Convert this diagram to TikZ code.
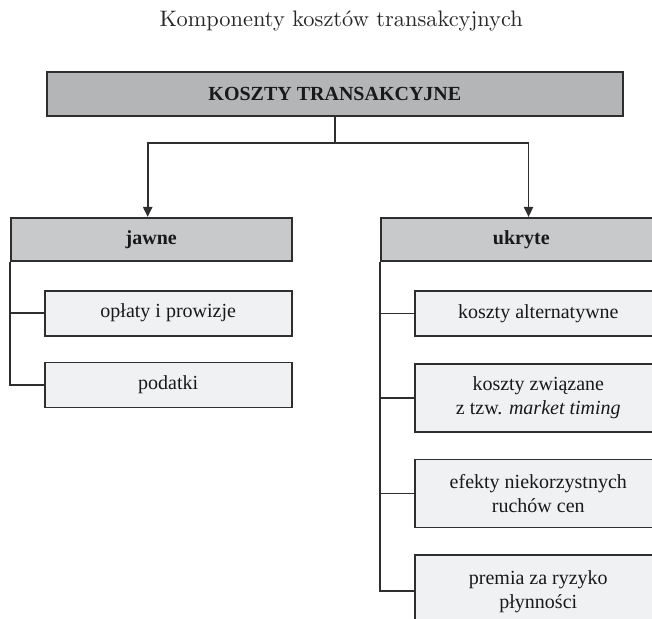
\documentclass[tikz,border=0pt]{standalone}
\usepackage{fontspec}
\newfontfamily\tnr{Liberation Serif}
\newfontfamily\lmdziesiec{lmroman10-regular.otf}
\usetikzlibrary{positioning,arrows.meta}

\definecolor{ramka}{HTML}{2E2E2E}
\definecolor{szary}{HTML}{B4B5B7}
\definecolor{sredni}{HTML}{C8C9CB}
\definecolor{jasny}{HTML}{F0F1F3}

\begin{document}
\begin{tikzpicture}[
  node distance=13pt,
  blok/.style={rectangle, draw=ramka, line width=0.9pt, inner sep=0pt, align=center,
               text=black!90, font=\tnr\fontsize{10}{12}\selectfont},
  korzen/.style={blok, fill=szary, minimum width=288.15pt, minimum height=21.85pt,
                 font=\tnr\bfseries\fontsize{10}{12}\selectfont},
  glowny/.style={blok, fill=sredni, minimum width=140.5pt, minimum height=21.65pt,
                 font=\tnr\bfseries\fontsize{10}{12}\selectfont},
  skladnik/.style={blok, fill=jasny, minimum width=123.5pt, minimum height=22.5pt},
  wysoki/.style={skladnik, minimum height=34pt},
  linia/.style={draw=ramka, line width=0.9pt},
  strzalka/.style={linia, -{Triangle[length=5pt, width=4.6pt]}},
  naglowek/.style={font=\lmdziesiec\fontsize{11.2}{13}\selectfont, text=black!85}
]

% obszar rysunku (ramki z prawej i u dołu są przycięte)
\path[use as bounding box, clip] (0,0) rectangle (326pt,-309pt);

% ====== KORZEŃ I TYTUŁ ======
\node[korzen] (koszty) at (167.43pt,-46.93pt) {KOSZTY TRANSAKCYJNE};
\node[naglowek, above=22.2pt of koszty.north, anchor=base, xshift=3.2pt] (tytul)
  {Komponenty kosztów transakcyjnych};

% ====== DWIE GAŁĘZIE ======
\node[glowny, below=50.15pt of koszty.south west, anchor=north west, xshift=-18pt] (jawne) {jawne};
\node[glowny, right=43.65pt of jawne] (ukryte) {ukryte};

\draw[linia] (koszty.south) -- ++(0,-13pt) coordinate (rozgalezienie);
\draw[strzalka] (rozgalezienie) -| ([xshift=-1.75pt]jawne.north);
\draw[strzalka] (rozgalezienie) -| ([xshift=3.6pt]ukryte.north);

% ====== LEWY SŁUPEK ======
\node[skladnik, below right=13.85pt and 17pt of jawne.south west] (oplaty) {opłaty i prowizje};
\node[skladnik, below=12.5pt of oplaty] (podatki) {podatki};

\draw[linia] (jawne.south west) |- (podatki.west);
\draw[linia] (oplaty.west) -- (oplaty.west -| jawne.west);

% ====== PRAWY SŁUPEK ======
\node[skladnik, below right=14pt and 17pt of ukryte.south west] (alternatywne) {koszty alternatywne};
\node[wysoki, below=of alternatywne] (timing) {koszty związane\\z tzw. \textit{market timing}};
\node[wysoki, below=of timing] (efekty) {efekty niekorzystnych\\ruchów cen};
\node[wysoki, below=of efekty, minimum height=36pt] (premia) {premia za ryzyko\\płynności};

\draw[linia] (ukryte.south west) |- (premia.west);
\foreach \n in {alternatywne,timing,efekty}
  \draw[linia] (\n.west) -- (\n.west -| ukryte.west);

\end{tikzpicture}
\end{document}
